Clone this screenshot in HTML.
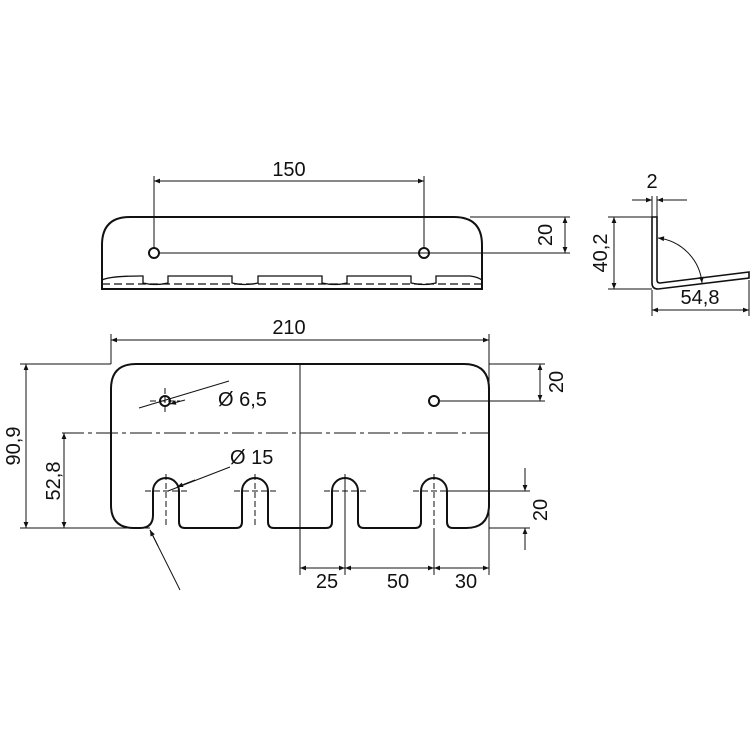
<!DOCTYPE html>
<html><head><meta charset="utf-8"><style>body{margin:0;background:#fff}svg{display:block}</style></head><body>
<svg width="750" height="750" viewBox="0 0 750 750" xmlns="http://www.w3.org/2000/svg" font-family="Liberation Sans, sans-serif" font-size="20" fill="none" stroke="#111">
<defs>
<marker id="a" viewBox="0 0 10 10" refX="10" refY="5" markerWidth="10" markerHeight="6" orient="auto-start-reverse" markerUnits="userSpaceOnUse"><path d="M0,1 L10,5 L0,9z" fill="#111" stroke="none"/></marker>
</defs>
<!-- TOP VIEW -->
<g stroke-width="2">
<path d="M102,289 V245 Q102,217 130,217 H454 Q482,217 482,245 V289 Z"/>
<circle cx="154" cy="253" r="5"/><circle cx="424" cy="253" r="5"/>
</g>
<g stroke-width="1.3">
<path d="M102,280 Q110,276 140,276 L143,276 V283 Q155,286 168,283 V276 L232,276 V283 Q245,286 258,283 V276 L322,276 V283 Q335,286 347,283 V276 L411,276 V283 Q424,286 436,283 V276 L470,276 Q478,277 482,280"/>
<path d="M102,284 H482" stroke-dasharray="8,4"/>
</g>
<g stroke-width="1">
<path d="M159,253 H570"/>
<path d="M154,176 V248 M424,176 V248"/>
<path d="M154,181 H424" marker-start="url(#a)" marker-end="url(#a)"/>
<path d="M470,217 H570"/>
<path d="M565,217 V253" marker-start="url(#a)" marker-end="url(#a)"/>
</g>
<g fill="#111" stroke="none">
<text x="289" y="176" text-anchor="middle">150</text>
<text transform="translate(552,235) rotate(-90)" text-anchor="middle">20</text>
</g>
<!-- SIDE VIEW -->
<g stroke-width="1.6">
<path d="M652,217 V283 Q652,289 658,289 L749,278 V272 L660,283 Q657,283 657,280 V217 Z"/>
</g>
<g stroke-width="1">
<path d="M652,196 V217 M657,196 V217"/>
<path d="M632,200 H652" marker-end="url(#a)"/>
<path d="M687,200 H657" marker-end="url(#a)"/>
<path d="M608,217 H652 M608,289 H652"/>
<path d="M614,217 V289" marker-start="url(#a)" marker-end="url(#a)"/>
<path d="M652,290 V316 M749,280 V316"/>
<path d="M652,310 H749" marker-start="url(#a)" marker-end="url(#a)"/>
<path d="M658,238 A50,50 0 0 1 702,283" marker-start="url(#a)" marker-end="url(#a)"/>
</g>
<g fill="#111" stroke="none">
<text x="652" y="188" text-anchor="middle">2</text>
<text transform="translate(607,253) rotate(-90)" text-anchor="middle">40,2</text>
<text x="700" y="304" text-anchor="middle">54,8</text>
</g>
<!-- MAIN VIEW -->
<g stroke-width="2">
<path d="M136,364 H464 Q489,364 489,389 V505 Q489,528 466,528 H453 Q447,528 447,522 V491 A13,13 0 0 0 421,491 V522 Q421,528 415,528 H364 Q358,528 358,522 V491 A13,13 0 0 0 332,491 V522 Q332,528 326,528 H274 Q268,528 268,522 V491 A13,13 0 0 0 242,491 V522 Q242,528 236,528 H185 Q179,528 179,522 V491 A13,13 0 0 0 153,491 V515 Q153,528 140,528 H134 Q111,528 111,505 V389 Q111,364 136,364 Z"/>
<circle cx="165" cy="401" r="5"/><circle cx="434" cy="401" r="5"/>
</g>
<g stroke-width="1">
<path d="M62,433 H489" stroke-dasharray="22,4,4,4"/>
<path d="M150,401 H180 M165,388 V414 M145,491 H187 M234,491 H276 M324,491 H366 M413,491 H455" stroke-dasharray="6,3"/>
<path d="M166,474 V526 M255,474 V526 M434,474 V526" stroke-dasharray="6,3"/>
<path d="M345,474 V575"/>
<path d="M111,334 V364 M489,334 V575 M300,364 V575 M434,528 V575"/>
<path d="M111,340 H489" marker-start="url(#a)" marker-end="url(#a)"/>
<path d="M20,364 H111 M20,528 H150"/>
<path d="M26,364 V528" marker-start="url(#a)" marker-end="url(#a)"/>
<path d="M64,433 V528" marker-start="url(#a)" marker-end="url(#a)"/>
<path d="M489,364 H545 M440,401 H545"/>
<path d="M540,364 V401" marker-start="url(#a)" marker-end="url(#a)"/>
<path d="M447,491 H530 M489,528 H530"/>
<path d="M525,468 V491" marker-end="url(#a)"/>
<path d="M525,550 V528" marker-end="url(#a)"/>
<path d="M300,568 H345" marker-start="url(#a)" marker-end="url(#a)"/>
<path d="M345,568 H434" marker-start="url(#a)" marker-end="url(#a)"/>
<path d="M434,568 H489" marker-start="url(#a)" marker-end="url(#a)"/>
<path d="M229,381 L139,408"/>
<path d="M185,400 L170,404" marker-end="url(#a)"/>
<path d="M230,467 L168,491"/>
<path d="M195,480 L177,487" marker-end="url(#a)"/>
<path d="M180,590 L150,530"/>
<path d="M158,546 L150,530" marker-end="url(#a)"/>
</g>
<g fill="#111" stroke="none">
<text x="289" y="334" text-anchor="middle">210</text>
<text x="218" y="406">Ø 6,5</text>
<text x="230" y="464">Ø 15</text>
<text transform="translate(20,446) rotate(-90)" text-anchor="middle">90,9</text>
<text transform="translate(60,481) rotate(-90)" text-anchor="middle">52,8</text>
<text transform="translate(563,382) rotate(-90)" text-anchor="middle">20</text>
<text transform="translate(547,510) rotate(-90)" text-anchor="middle">20</text>
<text x="327" y="588" text-anchor="middle">25</text>
<text x="398" y="588" text-anchor="middle">50</text>
<text x="466" y="588" text-anchor="middle">30</text>
</g>
</svg>
</body></html>
